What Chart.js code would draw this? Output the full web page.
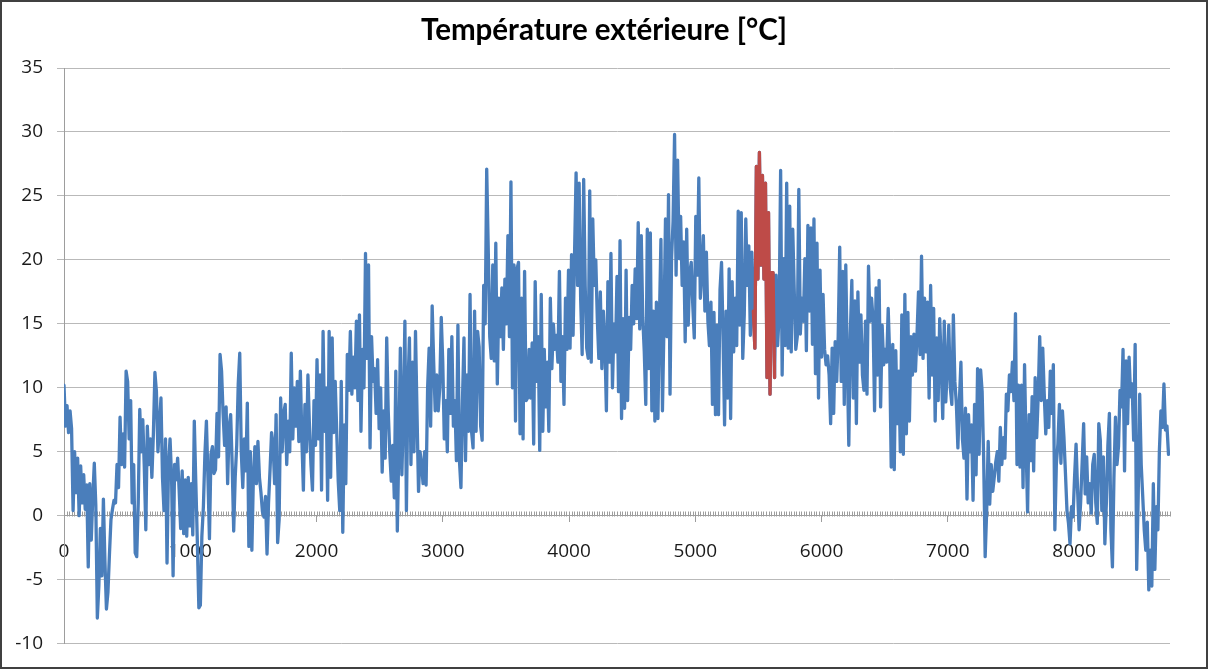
<!DOCTYPE html>
<html lang="fr">
<head>
<meta charset="utf-8">
<title>Température extérieure</title>
<script src="https://cdn.jsdelivr.net/npm/chart.js@4.4.1/dist/chart.umd.min.js"></script>
<style>
  html, body { margin: 0; padding: 0; background: #fff; }
  #wrap  { position: relative; width: 1208px; height: 669px; }
  #frame { position: absolute; left: 0; top: 0; width: 1208px; height: 669px;
           box-sizing: border-box; border: 2px solid #404040; pointer-events: none; }
</style>
</head>
<body>
<div id="wrap">
  <canvas id="chartTemp" width="1208" height="669"></canvas>
  <div id="frame"></div>
</div>
<script>
// ── Data: one reading every 12 h, one array per month ──
const STEP_HOURS = 12;

const tempJan = [10.2,7.0, 8.6,6.5, 8.2,6.8, 0.4,5.0, 1.8,4.5, 0.0,3.9, 1.0,3.2, 0.5,2.4, -4.0,2.5, -1.9,1.5,
  4.1,0.8, -8.0,-5.5, -1.0,-4.7, 1.3,-3.5, -7.3,-6.0, -3.0,-0.3, 0.5,1.2, 1.0,4.0, 2.2,7.7, 4.0,6.4,
  3.8,11.3, 10.5,6.0, 9.0,1.0, 4.0,-2.9, -3.2,1.0, 8.3,5.0, 7.5,3.8, -1.1,7.0, 4.0,6.0, 3.0,6.4, 11.2,9.7];
const tempFeb = [5.0,7.0, 9.2,3.0, 0.4,6.0, -3.7,4.0, 6.0,3.0, -4.7,4.0, 2.8,4.5, 2.0,-1.0, 3.5,-1.4, 2.8,-1.6,
  3.0,-0.8, 2.5,-1.5, 7.4,2.6, -2.0,-7.2, -7.0,-1.6, 0.7,4.8, 7.4,3.0, -1.8,4.8, 5.4,3.3, 3.6,8.0,
  4.6,12.6, 11.3,8.0, 5.5,8.5, 2.5,7.0, 7.9,4.0, -1.2,3.0, 5.5,10.3, 12.7,5.0];
const tempMar = [2.2,6.0, 3.5,8.8, -2.4,5.0, -2.7,3.0, 5.4,2.5, 5.8,3.0, 1.8,0.3, -0.1,1.5, -3.0,1.0, 3.6,6.5,
  5.6,2.5, 7.9,-2.1, -0.3,9.2, 5.0,8.0, 8.7,4.0, 7.4,5.0, 12.7,6.0, 10.0,7.0, 10.5,5.8, 11.3,6.0,
  2.0,8.7, 5.0,11.0, 7.0,4.0, 2.0,9.0, 5.5,12.2, 6.0,11.0, 2.0,14.4, 6.6,10.0, 1.2,14.4, 3.0,13.9, 6.5,10.5];
const tempApr = [6.6,2.7, 0.4,10.5, -1.3,7.1, 2.5,12.6, 9.8,14.4, 9.5,12.4, 10.0,15.2, 9.0,15.7, 6.6,13.0, 10.0,20.5,
  12.3,19.6, 5.3,14.0, 10.5,11.5, 8.0,12.2, 6.8,10.0, 3.4,8.2, 4.5,13.9, 8.2,5.0, 2.7,5.5, 1.4,11.3,
  -1.2,5.3, 13.1,3.2, 8.0,15.2, 0.4,10.0, 13.9,4.0, 12.0,5.0, 14.4,8.0, 1.9,5.0, 4.0,2.5, 5.0,2.4];
const tempMay = [10.0,13.1, 7.0,16.4, 12.0,8.2, 11.0,8.2, 10.0,15.5, 12.0,6.0, 9.0,5.0, 13.0,8.0, 14.0,7.0, 9.0,4.3,
  14.9,4.3, 2.2,9.0, 13.9,4.3, 11.0,6.6, 17.3,6.6, 5.3,16.0, 6.6,14.4, 13.2,7.0, 5.9,18.0, 15.0,27.1,
  20.9,14.0, 12.3,19.6, 12.1,21.3, 10.3,17.0, 14.0,17.8, 13.0,18.5, 15.0,21.9, 14.0,26.1, 10.0,19.6, 7.4,19.3, 19.8,6.4];
const tempJun = [17.0,6.0, 19.1,9.0, 9.2,13.0, 9.2,13.5, 5.6,18.3, 10.5,14.0, 5.1,17.3, 6.6,13.0, 8.5,12.0, 6.6,17.0,
  11.5,15.0, 13.0,14.1, 12.0,19.1, 10.5,14.0, 8.7,17.0, 13.0,19.2, 13.1,20.4, 14.1,20.6, 26.8,18.0, 26.0,17.0,
  12.6,26.3, 18.0,13.1, 12.3,25.4, 12.0,23.2, 18.0,20.0, 15.4,12.3, 17.5,11.5, 16.0,13.5, 8.2,18.3, 12.0,20.5];
const tempJul = [10.0,15.0, 12.8,18.7, 9.7,21.5, 7.6,15.4, 8.4,19.2, 9.0,15.5, 13.0,18.0, 15.0,19.3, 15.4,22.9, 14.6,21.9,
  15.5,12.8, 8.7,22.4, 11.5,22.1, 8.2,16.0, 7.4,16.7, 7.6,15.4, 21.6,8.2, 14.9,23.2, 14.0,25.1, 9.5,20.1,
  23.0,29.8, 18.8,27.8, 20.1,23.4, 18.0,21.4, 13.6,22.4, 14.9,19.0, 19.8,16.5, 13.9,23.4, 18.8,26.4, 17.0,19.0, 21.9,16.0];
const tempAug = [20.6,15.2, 13.3,16.7, 8.7,15.9, 7.9,14.9, 7.9,17.7, 19.8,14.0, 7.1,16.0, 9.2,19.3, 7.6,18.3, 12.8,17.0,
  13.3,23.8, 14.9,23.7, 12.3,15.7, 23.2,18.0, 21.1,14.1, 20.6,16.0, 13.1,27.3, 18.5,28.4, 19.6,26.6, 18.5,26.0,
  10.8,23.7, 9.5,19.0, 19.0,10.8, 18.8,13.3, 15.7,27.0, 11.0,20.1, 13.3,26.0, 13.1,24.2, 12.8,22.4, 17.5,13.0, 14.0,25.5];
const tempSep = [14.2,17.0, 15.2,20.1, 12.9,22.7, 16.0,22.5, 13.4,23.2, 11.1,21.3, 9.2,19.2, 12.4,17.3, 13.0,11.8, 12.5,11.0,
  7.2,13.1, 8.0,13.6, 10.5,14.0, 21.0,10.5, 19.1,8.7, 19.6,12.0, 5.5,14.2, 18.4,9.2, 16.8,7.2, 17.5,12.0,
  15.7,11.0, 9.8,15.2, 9.5,19.5, 15.2,17.0, 15.4,8.2, 17.8,11.0, 18.4,8.5, 14.9,11.8, 13.0,12.0, 16.2,12.4];
const tempOct = [3.8,13.4, 3.6,12.9, 7.2,11.3, 5.0,15.7, 4.8,17.3, 6.4,15.9, 7.4,14.0, 11.0,14.2, 11.3,14.1, 17.5,12.6,
  20.3,12.3, 17.0,12.8, 16.7,9.2, 18.0,11.0, 16.2,7.4, 13.9,9.0, 15.4,12.0, 7.6,15.2, 8.9,11.5, 14.9,10.0,
  8.7,15.7, 10.5,8.7, 5.3,9.0, 12.0,6.0, 4.5,8.4, 1.3,7.9, 5.0,7.1, 1.2,8.7, 3.2,11.5, 4.8,11.4, 9.7,4.5];
const tempNov = [-3.2,0.4, 5.8,0.9, 4.0,1.9, 3.0,4.2, 5.0,2.7, 6.9,4.0, 6.1,4.5, 9.5,8.2, 11.0,9.7, 12.0,9.0,
  15.8,4.0, 10.2,3.8, 10.2,2.2, 11.8,5.5, 0.3,7.9, 4.3,9.3, 3.5,10.8, 6.1,9.3, 14.0,9.0, 13.1,9.5,
  6.4,9.0, 6.9,11.3, 8.0,11.8, -1.1,4.1, 5.6,8.7, 4.1,8.2, 6.1,3.3, 0.4,-0.6, -2.2,0.7, -0.1,3.0];
const tempDec = [5.6,2.0, -1.1,1.0, 4.1,7.2, 1.7,4.6, 1.0,2.5, 0.2,4.0, 4.8,1.0, -0.6,7.2, 5.9,0.4, 4.6,-2.2,
  1.0,5.5, 8.0,-1.1, -4.0,3.0, 7.7,4.0, 5.4,9.8, 8.5,13.0, 3.5,12.1, 7.2,12.4, 9.3,10.3, 5.9,13.4,
  -4.2,1.5, 9.5,4.0, 1.5,-1.1, -2.7,-0.5, -5.8,-2.7, -5.5,2.5, -4.2,0.7, -1.1,5.1, 8.2,6.9, 10.3,6.7, 7.0,4.8];

// highlighted week (red), in hours
const highlightFrom = 5460;
const highlightTo   = 5628;

// axes
const xTickValues = [0, 1000, 2000, 3000, 4000, 5000, 6000, 7000, 8000];
const yTickValues = [-10, -5, 0, 5, 10, 15, 20, 25, 30, 35];
const HOURS_IN_YEAR = 8760;
const MINOR_TICK_STEP = 20;

(function () {

  const temps = [].concat(tempJan, tempFeb, tempMar, tempApr, tempMay, tempJun,
                          tempJul, tempAug, tempSep, tempOct, tempNov, tempDec);
  const hours = temps.map((_, i) => i * STEP_HOURS);

  const allPoints  = temps.map((t, i) => ({ x: hours[i], y: t }));
  const weekPoints = temps.map((t, i) => ({
    x: hours[i],
    y: (hours[i] >= highlightFrom && hours[i] <= highlightTo) ? t : null
  }));

  const blue      = '#4a7ebb';
  const red       = '#be4b48';
  const gridColor = '#b9b9b9';
  const axisColor = '#9d9d9d';
  const textColor = '#1a1a1a';
  const tickFont  = { family: "'Open Sans', sans-serif", size: 19 };

  // small upward ticks along the zero axis (Excel minor marks)
  const minorTicks = {
    id: 'minorTicks',
    beforeDatasetsDraw(chart) {
      const sx = chart.scales.x, sy = chart.scales.y, ctx = chart.ctx;
      const y0 = Math.round(sy.getPixelForValue(0)) + 0.5;
      ctx.save();
      ctx.strokeStyle = axisColor;
      ctx.lineWidth = 1;
      ctx.beginPath();
      for (let h = MINOR_TICK_STEP; h <= HOURS_IN_YEAR; h += MINOR_TICK_STEP) {
        const px = Math.round(sx.getPixelForValue(h)) + 0.5;
        ctx.moveTo(px, y0 - 5);
        ctx.lineTo(px, y0);
      }
      ctx.stroke();
      ctx.restore();
    }
  };

  new Chart(document.getElementById('chartTemp'), {
    type: 'line',
    data: {
      datasets: [
        {
          label: 'Semaine',
          data: weekPoints,
          borderColor: red,
          borderWidth: 3.3,
          pointRadius: 0,
          spanGaps: false,
          borderJoinStyle: 'round',
          borderCapStyle: 'round'
        },
        {
          label: 'Température',
          data: allPoints,
          borderColor: blue,
          borderWidth: 3.3,
          pointRadius: 0,
          borderJoinStyle: 'round',
          borderCapStyle: 'round'
        }
      ]
    },
    options: {
      responsive: false,
      animation: false,
      layout: { padding: { left: 0, right: 0, top: 0, bottom: 21 } },
      plugins: {
        legend: { display: false },
        tooltip: { enabled: false },
        title: {
          display: true,
          text: 'Température extérieure [°C]',
          color: '#000',
          font: { family: "Lato, sans-serif", size: 29.5, weight: 'bold' },
          padding: { top: 13, bottom: 19.6 }
        }
      },
      scales: {
        x: {
          type: 'linear',
          min: 0,
          max: HOURS_IN_YEAR,
          position: { y: 0 },
          afterBuildTicks: s => { s.ticks = xTickValues.map(v => ({ value: v })); },
          grid: { drawOnChartArea: false, tickLength: 6, color: axisColor },
          border: { color: axisColor },
          ticks: {
            color: textColor, font: tickFont, padding: 19, maxRotation: 0, autoSkip: false,
            callback: v => String(v)
          }
        },
        y: {
          min: -10,
          max: 35,
          afterBuildTicks: s => { s.ticks = yTickValues.map(v => ({ value: v })); },
          afterFit: s => { s.width = 64; },
          grid: { color: gridColor, tickLength: 7 },
          border: { color: axisColor },
          ticks: { color: textColor, font: tickFont, padding: 14, callback: v => String(v) }
        },
        // empty right-hand margin so the title stays centred on the whole frame
        yMargin: {
          position: 'right',
          min: -10,
          max: 35,
          afterFit: s => { s.width = 38; },
          grid: { display: false },
          border: { display: false },
          ticks: { display: false }
        }
      }
    },
    plugins: [minorTicks]
  });

})();
</script>
</body>
</html>
